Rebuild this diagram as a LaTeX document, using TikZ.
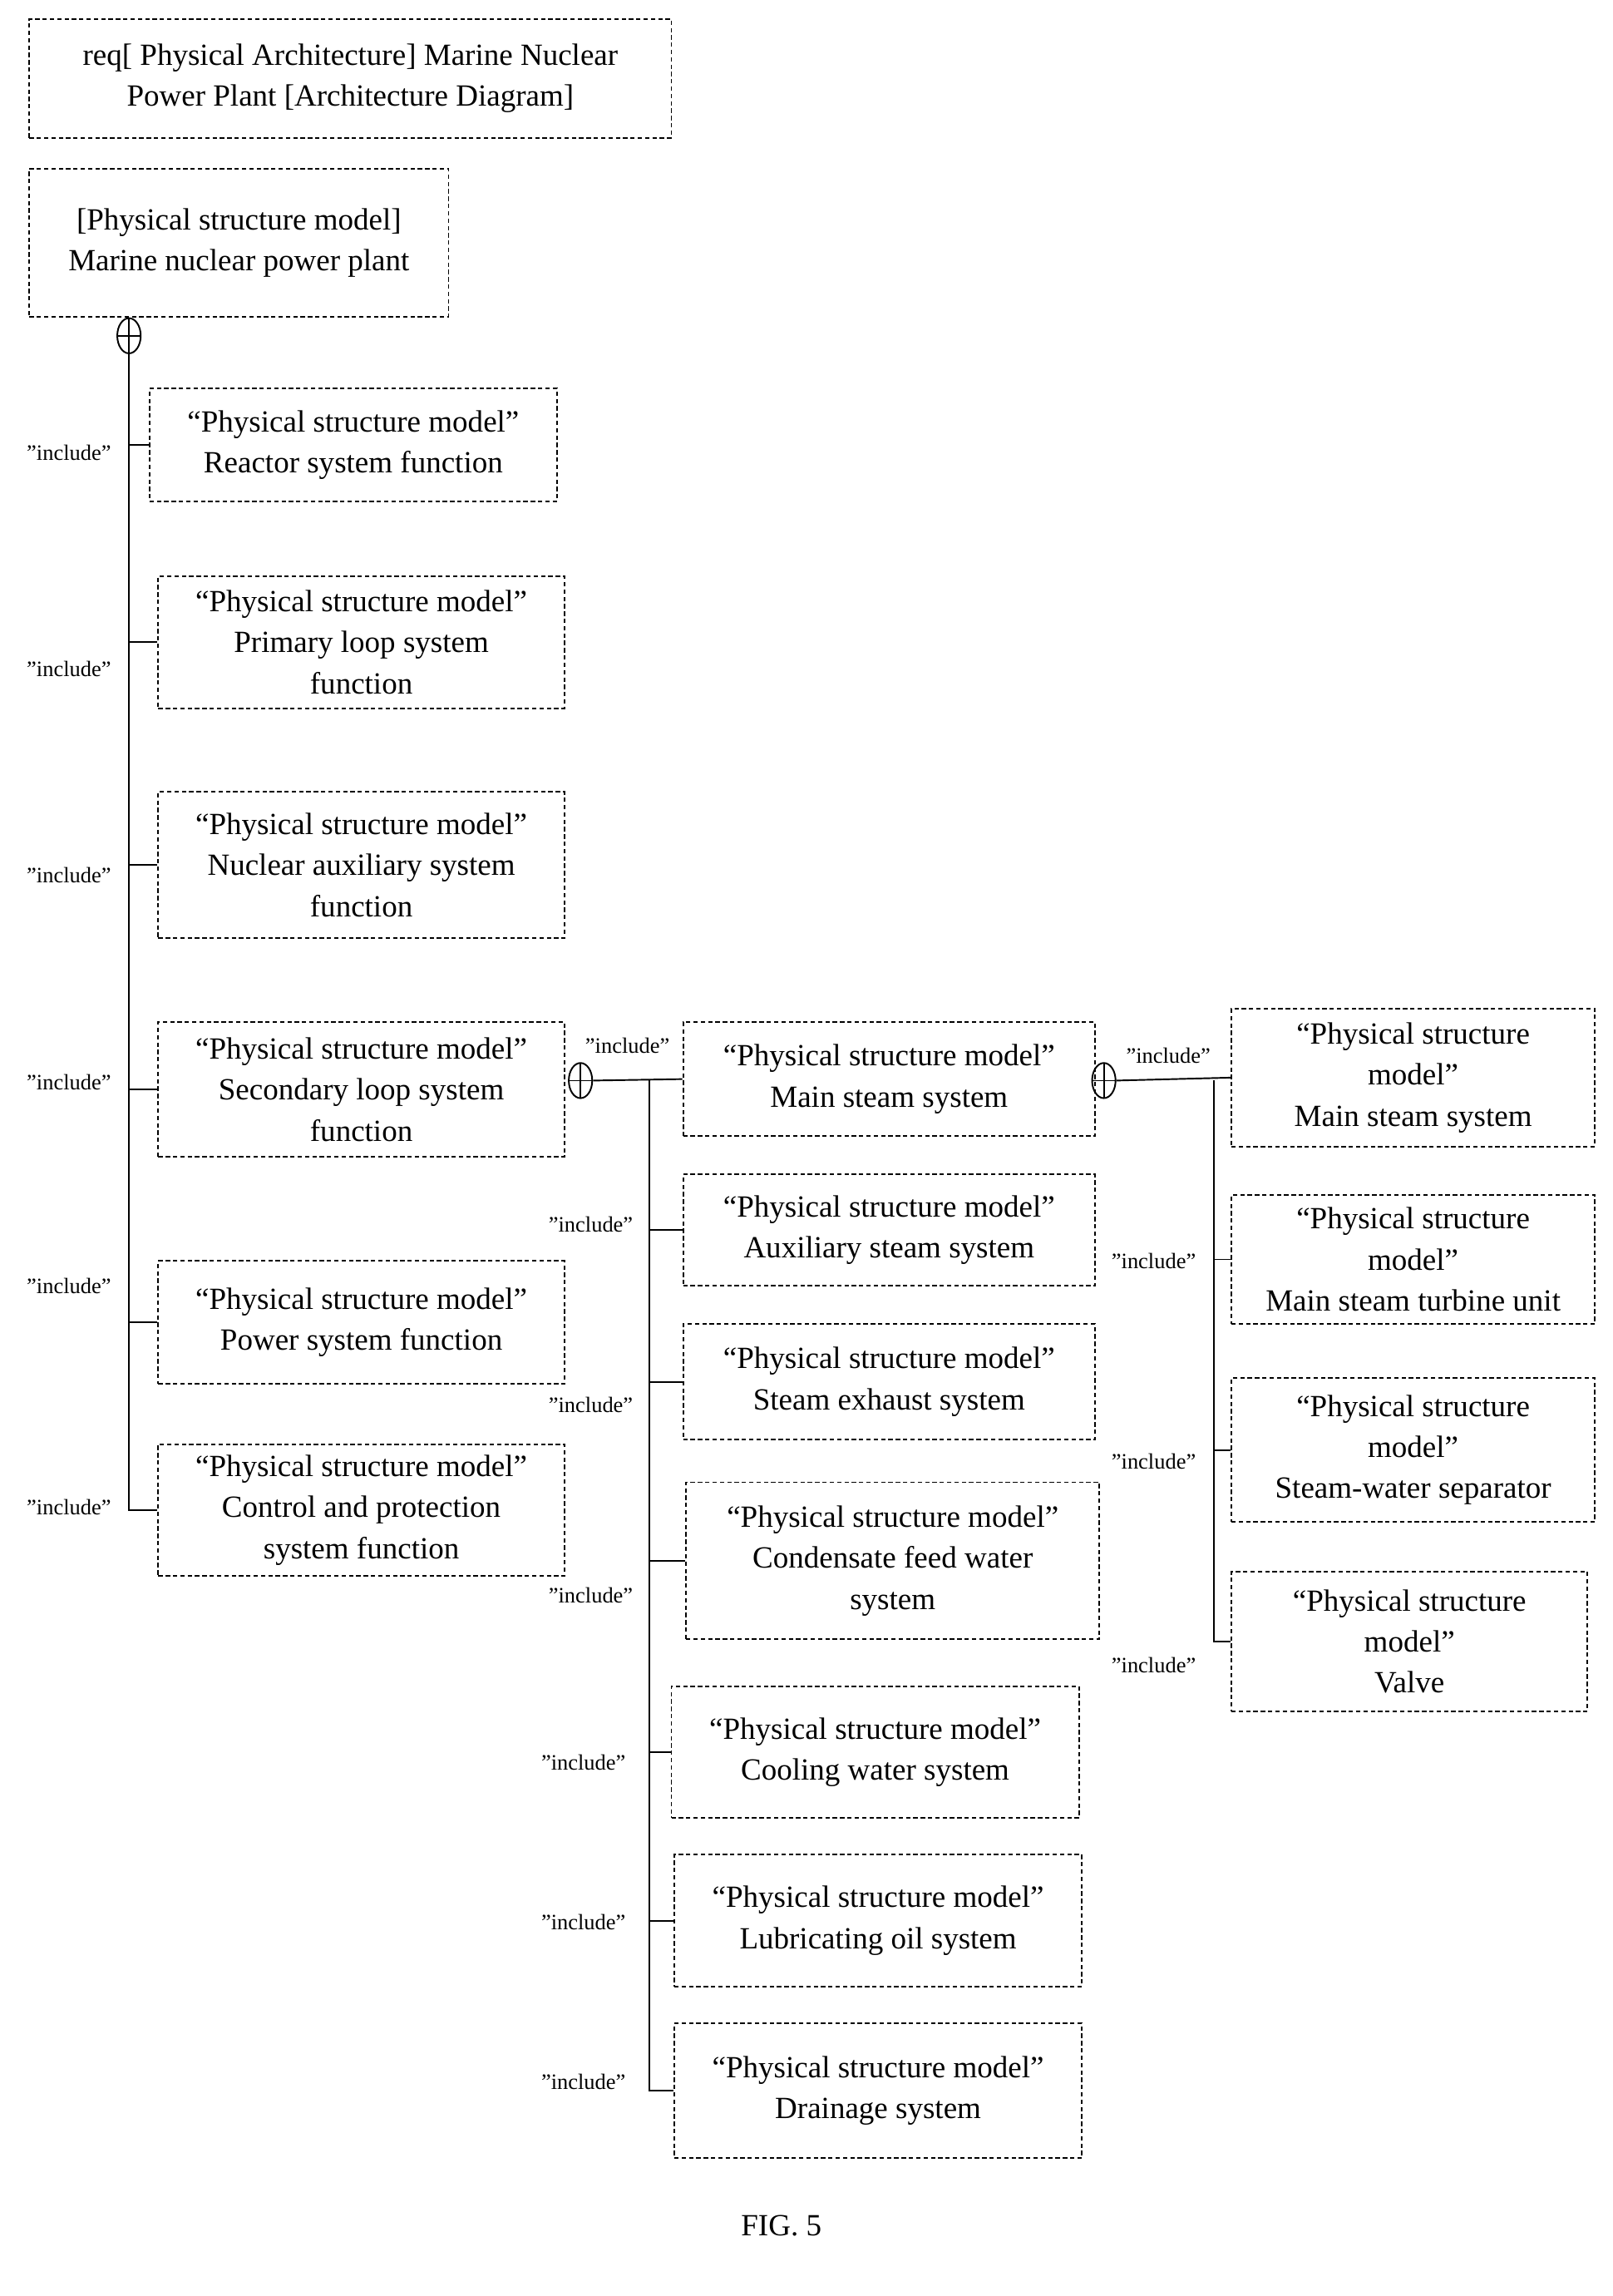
\documentclass[tikz,border=0pt]{standalone}
\usepackage{fontspec}
\setmainfont{Liberation Serif}
\usetikzlibrary{shapes.geometric}
\begin{document}
\begin{tikzpicture}[x=1pt,y=-1pt,
  box/.style={draw,line width=1.1pt,densely dashed,font=\fontsize{21}{28}\selectfont,align=center,inner sep=0pt},
  ln/.style={line width=1.1pt},
  inc/.style={font=\fontsize{15}{16}\selectfont,inner sep=0pt},
  cp/.style={draw,ellipse,line width=1.1pt,minimum width=16pt,minimum height=24pt,inner sep=0pt,
    path picture={\draw[line width=1pt] (path picture bounding box.north) -- (path picture bounding box.south) (path picture bounding box.west) -- (path picture bounding box.east);}}]
\useasboundingbox (0,0) rectangle (1100,1566);
\newcommand\bx[6]{\node[box,minimum width=#4-#2,minimum height=#5-#3] (#1) at ({(#2+#4)/2},{(#3+#5)/2}) {#6};}
\bx{hdr}{20}{13}{458}{94}{req[ Physical Architecture] Marine Nuclear\\Power Plant [Architecture Diagram]}
\bx{root}{20}{115}{306}{216}{[Physical structure model]\\Marine nuclear power plant}
\bx{b1}{102}{265}{380}{342}{“Physical structure model”\\Reactor system function}
\bx{b2}{108}{393}{385}{483}{“Physical structure model”\\Primary loop system\\function}
\bx{b3}{108}{540}{385}{640}{“Physical structure model”\\Nuclear auxiliary system\\function}
\bx{b4}{108}{697}{385}{789}{“Physical structure model”\\Secondary loop system\\function}
\bx{b5}{108}{860}{385}{944}{“Physical structure model”\\Power system function}
\bx{b6}{108}{985}{385}{1075}{“Physical structure model”\\Control and protection\\system function}
\bx{m1}{466}{697}{747}{775}{“Physical structure model”\\Main steam system}
\bx{m2}{466}{801}{747}{877}{“Physical structure model”\\Auxiliary steam system}
\bx{m3}{466}{903}{747}{982}{“Physical structure model”\\Steam exhaust system}
\bx{m4}{468}{1011}{750}{1118}{“Physical structure model”\\Condensate feed water\\system}
\bx{m5}{458}{1150}{736}{1240}{“Physical structure model”\\Cooling water system}
\bx{m6}{460}{1265}{738}{1355}{“Physical structure model”\\Lubricating oil system}
\bx{m7}{460}{1380}{738}{1472}{“Physical structure model”\\Drainage system}
\bx{r1}{840}{688}{1088}{782}{“Physical structure\\model”\\Main steam system}
\bx{r2}{840}{815}{1088}{903}{“Physical structure\\model”\\Main steam turbine unit}
\bx{r3}{840}{940}{1088}{1038}{“Physical structure\\model”\\Steam-water separator}
\bx{r4}{840}{1072}{1083}{1167}{“Physical structure\\model”\\Valve}
\node[cp] (c1) at (88,229) {};
\node[cp] (c2) at (396,737) {};
\node[cp] (c3) at (753,737) {};
\coordinate (t1) at (88,240);
\draw[ln] (c1.south) |- (b6.west);
\foreach \b in {b1,b2,b3,b4,b5} \draw[ln] (c1.south |- \b.west) -- (\b.west);
\coordinate (t2) at (443,737);
\draw[ln] (c2.east) -- (m1.west);
\draw[ln] (t2) |- (m7.west);
\foreach \b in {m2,m3,m4,m5,m6} \draw[ln] (t2 |- \b.west) -- (\b.west);
\coordinate (t3) at (828,737);
\draw[ln] (c3.east) -- (r1.west);
\draw[ln] (t3) |- (r4.west);
\foreach \b in {r2,r3} \draw[ln] (t3 |- \b.west) -- (\b.west);
\node[inc] (l1) at (47,309) {"include"};
\node[inc] (l2) at (47,456) {"include"};
\node[inc] (l3) at (47,597) {"include"};
\node[inc] (l4) at (47,738) {"include"};
\node[inc] (l5) at (47,877) {"include"};
\node[inc] (l6) at (47,1028) {"include"};
\node[inc] (l7) at (428,713) {"include"};
\node[inc] (l8) at (403,835) {"include"};
\node[inc] (l9) at (403,958) {"include"};
\node[inc] (l10) at (403,1088) {"include"};
\node[inc] (l11) at (398,1202) {"include"};
\node[inc] (l12) at (398,1311) {"include"};
\node[inc] (l13) at (398,1420) {"include"};
\node[inc] (l14) at (797,720) {"include"};
\node[inc] (l15) at (787,860) {"include"};
\node[inc] (l16) at (787,997) {"include"};
\node[inc] (l17) at (787,1136) {"include"};
\node[font=\fontsize{21}{24}\selectfont] (fig) at (533,1518) {FIG. 5};
\end{tikzpicture}
\end{document}
